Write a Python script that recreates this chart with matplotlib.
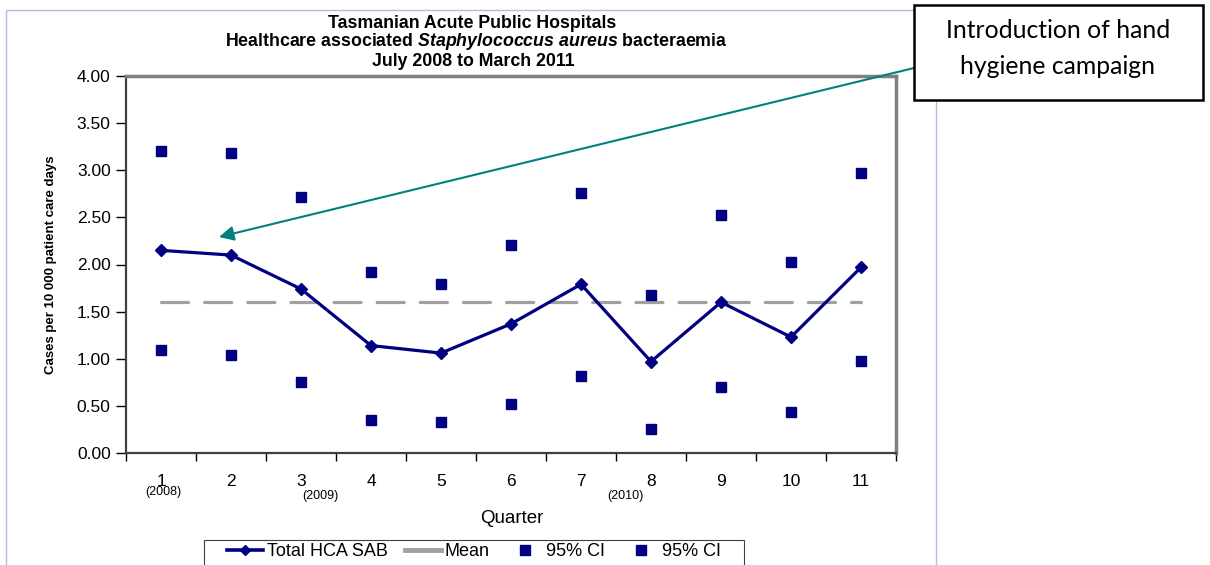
import matplotlib.pyplot as plt
from matplotlib.patches import Rectangle, FancyArrowPatch
from matplotlib.lines import Line2D
from matplotlib.transforms import blended_transform_factory

plt.rcParams['font.family'] = ['Liberation Sans', 'DejaVu Sans']
plt.rcParams['mathtext.fontset'] = 'custom'
plt.rcParams['mathtext.it'] = 'Liberation Sans:italic:bold'
plt.rcParams['mathtext.rm'] = 'Liberation Sans:bold'

# data
quarters = list(range(1, 12))
total_hca_sab = [2.15, 2.10, 1.74, 1.14, 1.06, 1.37, 1.79, 0.97, 1.60, 1.23, 1.97]
mean_rate = [1.60] * 11
ci_upper = [3.20, 3.18, 2.72, 1.92, 1.79, 2.21, 2.76, 1.68, 2.52, 2.03, 2.97]
ci_lower = [1.09, 1.04, 0.75, 0.35, 0.33, 0.52, 0.82, 0.25, 0.70, 0.43, 0.98]
year_labels = ['(2008)', '(2009)', '(2010)']
year_xpos = [1.03, 3.27, 7.64]  # where the little year boxes sit

navy = '#000080'
teal = '#008080'

fig = plt.figure(figsize=(12.1, 5.65), dpi=100)
fig.patch.set_facecolor('white')

# lavender chart-area border (runs off the bottom)
fig.add_artist(Rectangle((6 / 1210, -0.05), (936 - 6) / 1210, 1 - 10 / 565 + 0.05,
                         transform=fig.transFigure, fill=False,
                         edgecolor='#b8b8e0', lw=1.0, zorder=0))

ax = fig.add_axes([126 / 1210, 112 / 565, 770 / 1210, 377 / 565])

ax.plot(quarters, mean_rate, color='#a0a0a0', lw=2.3,
        dashes=(8.5, 5.0), dash_capstyle='round', zorder=2)
ax.plot(quarters, total_hca_sab, color=navy, lw=2.3, marker='D',
        markersize=6.5, zorder=3)
ax.plot(quarters, ci_upper, ls='none', marker='s', markersize=7.5,
        color=navy, zorder=3)
ax.plot(quarters, ci_lower, ls='none', marker='s', markersize=7.5,
        color=navy, zorder=3)

ax.set_xlim(0.5, 11.5)
ax.set_ylim(0, 4)
ax.set_yticks([i * 0.5 for i in range(9)])
ax.set_yticklabels(['%.2f' % (i * 0.5) for i in range(9)], fontsize=12.5)
ax.set_xticks(quarters)
ax.set_xticklabels([str(q) for q in quarters], fontsize=12.5)
ax.set_xticks([q + 0.5 for q in range(0, 12)], minor=True)
ax.tick_params(axis='x', which='major', length=0, pad=15)
ax.tick_params(axis='x', which='minor', length=6, width=1, direction='out')
ax.tick_params(axis='y', length=7, width=1, direction='out', pad=4)

for side in ['top', 'right']:
    ax.spines[side].set_color('#808080')
    ax.spines[side].set_linewidth(2.5)
for side in ['left', 'bottom']:
    ax.spines[side].set_color('#404040')
    ax.spines[side].set_linewidth(1.6)

ax.set_ylabel('Cases per 10 000 patient care days', fontsize=9.5, fontweight='bold')
ax.yaxis.set_label_coords(-0.089, 0.5)
ax.set_xlabel('Quarter', fontsize=13.5)
ax.xaxis.set_label_coords(0.501, -0.152)

trans = blended_transform_factory(ax.transData, ax.transAxes)
for xp, lab in zip(year_xpos, year_labels):
    dy = -0.104 if lab == '(2008)' else -0.115
    ax.text(xp, dy, lab, transform=trans, fontsize=9, ha='center', va='center')

# titles
fig.text(0.390, 1 - 23 / 565, 'Tasmanian Acute Public Hospitals',
         ha='center', va='center', fontsize=12.8, fontweight='bold')
fig.text(0.394, 1 - 42 / 565,
         r'Healthcare associated $\mathit{Staphylococcus\ aureus}$ bacteraemia',
         ha='center', va='center', fontsize=12.8, fontweight='bold')
fig.text(0.391, 1 - 61 / 565, 'July 2008 to March 2011',
         ha='center', va='center', fontsize=12.8, fontweight='bold')

# legend (cut off at the bottom, as in the original)
fig.add_artist(Rectangle((204 / 1210, -0.05), (744 - 204) / 1210, 0.05 + 25 / 565,
                         transform=fig.transFigure, facecolor='white',
                         edgecolor='#404040', lw=0.8, zorder=1))
handles = [
    Line2D([], [], color=navy, lw=2.6, marker='D', markersize=5),
    Line2D([], [], color='#a0a0a0', lw=3.5),
    Line2D([], [], ls='none', color=navy, marker='s', markersize=6.5),
    Line2D([], [], ls='none', color=navy, marker='s', markersize=6.5),
]
leg = fig.legend(handles, ['Total HCA SAB', 'Mean', '95% CI', '95% CI'],
                 loc='center left', bbox_to_anchor=(227 / 1210, 1 - 552 / 565),
                 ncol=4, fontsize=13, frameon=False, handlelength=2.0,
                 handletextpad=0.2, columnspacing=0.95, borderpad=0,
                 borderaxespad=0)
leg.set_zorder(2)

# annotation box + arrow
fig.add_artist(Rectangle((914 / 1210, 1 - 100 / 565), (1203 - 914) / 1210, 95 / 565,
                         transform=fig.transFigure, facecolor='white',
                         edgecolor='black', lw=1.8, zorder=5))
fig.text(1058 / 1210, 1 - 48.5 / 565, 'Introduction of hand\nhygiene campaign',
         ha='center', va='center', fontsize=17.8, family=['Lato', 'DejaVu Sans'],
         linespacing=1.7, zorder=6)
fig.add_artist(FancyArrowPatch((914 / 1210, 1 - 68 / 565), (219 / 1210, 1 - 237 / 565),
                               transform=fig.transFigure, arrowstyle='-|>',
                               mutation_scale=22, color=teal, lw=1.5, zorder=4,
                               shrinkA=0, shrinkB=0))

fig.savefig('out.png', dpi=100)
